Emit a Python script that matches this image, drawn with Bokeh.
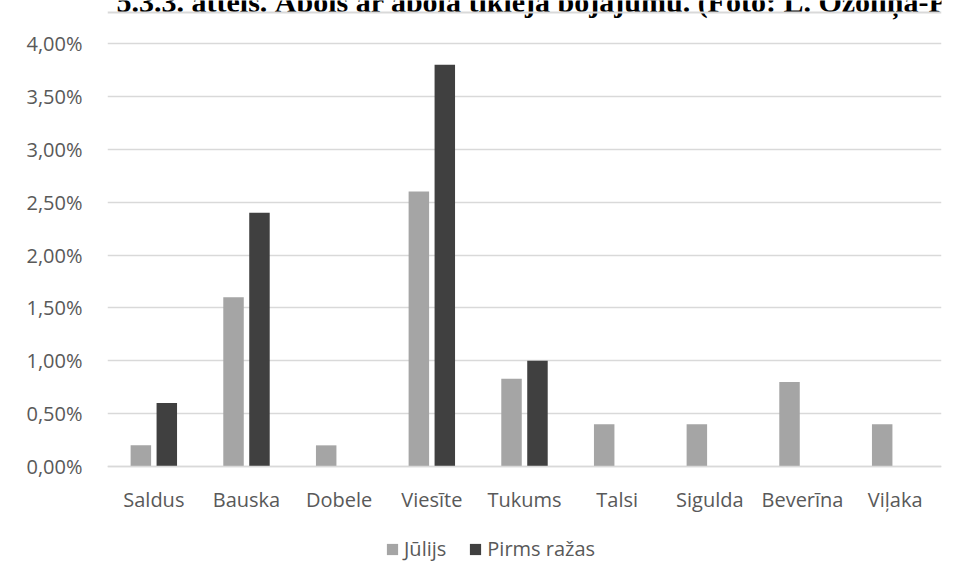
from bokeh.plotting import figure
from bokeh.models import (ColumnDataSource, Range1d, Legend, LegendItem, Span,
                          CustomJSTickFormatter, FixedTicker)
from bokeh.core.properties import value
from bokeh.embed import file_html
from bokeh.resources import INLINE

categories = ["Saldus", "Bauska", "Dobele", "Viesīte", "Tukums", "Talsi", "Sigulda", "Beverīna", "Viļaka"]
julijs = [0.2, 1.6, 0.2, 2.6, 0.83, 0.4, 0.4, 0.8, 0.4]
pirms_razas = [0.6, 2.4, 0.0, 3.8, 1.0, 0.0, 0.0, 0.0, 0.0]
y_ticks = [0, 0.5, 1.0, 1.5, 2.0, 2.5, 3.0, 3.5, 4.0]
series_names = ["Jūlijs", "Pirms ražas"]
title_text = "5.3.3. attēls. Ābols ar ābola tīkleja bojājumu. (Foto: L. Ozoliņa-Pole)"

FONT = "Open Sans"
TXT = "#595959"
BORDER = "#D9D9D9"

# layout in pixels: frame from the canvas top to 580 px; 0 % at 466 px, 4 % at 43 px
FRAME_LEFT, FRAME_RIGHT, FRAME_BOTTOM, FIG_H = 107, 941, 580, 640
ZERO_PX, TOP_PX = 466, 43
px_per_unit = (ZERO_PX - TOP_PX) / 4.0
Y_END = ZERO_PX / px_per_unit
Y_START = -(FRAME_BOTTOM - ZERO_PX) / px_per_unit
px_per_cat = (FRAME_RIGHT - FRAME_LEFT) / len(categories)

centers = [i + 0.5 for i in range(len(categories))]
src = ColumnDataSource(dict(xa=[c - 0.14 for c in centers], xb=[c + 0.14 for c in centers],
                            a=julijs, b=pirms_razas))

p = figure(width=955, height=FIG_H, x_range=Range1d(0, len(categories)), y_range=Range1d(Y_START, Y_END),
           output_backend="svg", toolbar_location=None,
           min_border_left=FRAME_LEFT, min_border_right=955 - FRAME_RIGHT,
           min_border_top=0, min_border_bottom=FIG_H - FRAME_BOTTOM)
p.outline_line_color = None
p.background_fill_color = "white"
p.border_fill_color = "white"

r1 = p.vbar(x="xa", top="a", width=0.221, source=src, fill_color="#A5A5A5", line_color=None)
r2 = p.vbar(x="xb", top="b", width=0.221, source=src, fill_color="#404040", line_color=None)

p.xgrid.grid_line_color = None
p.ygrid.grid_line_color = BORDER
p.ygrid.grid_line_width = 1.3
p.ygrid.ticker = FixedTicker(ticks=y_ticks)

ya = p.yaxis[0]
ya.ticker = FixedTicker(ticks=y_ticks)
ya.formatter = CustomJSTickFormatter(code="return tick.toFixed(2).replace('.', ',') + '%';")
ya.axis_line_color = None
ya.major_tick_line_color = None
ya.minor_tick_line_color = None
ya.major_label_standoff = 19
ya.major_label_text_font = FONT
ya.major_label_text_font_size = "20px"
ya.major_label_text_color = TXT

xa = p.xaxis[0]
xa.fixed_location = 0
xa.ticker = FixedTicker(ticks=centers)
xa.formatter = CustomJSTickFormatter(args=dict(labels=categories),
                                     code="var i = Math.round(tick - 0.5); return (i >= 0 && i < labels.length) ? labels[i] : '';")
xa.axis_line_color = BORDER
xa.axis_line_width = 1.3
xa.major_tick_line_color = None
xa.minor_tick_line_color = None
xa.major_label_standoff = 13
xa.major_label_text_font = FONT
xa.major_label_text_font_size = "20px"
xa.major_label_text_color = TXT

# caption (its top falls outside the page, as in the source)
tsrc = ColumnDataSource(dict(x=[(116 - FRAME_LEFT) / px_per_cat], y=[(ZERO_PX - 0.5) / px_per_unit],
                             t=[title_text]))
p.text(x="x", y="y", text="t", source=tsrc,
       text_font=value("Liberation Serif"), text_font_style="bold", text_font_size="30px",
       text_color="black", text_baseline="alphabetic", text_align="left")

# top edge of the chart box
p.add_layout(Span(location=(ZERO_PX - 12) / px_per_unit, dimension="width",
                  line_color=BORDER, line_width=2))

legend = Legend(items=[LegendItem(label=series_names[0], renderers=[r1]),
                       LegendItem(label=series_names[1], renderers=[r2])],
                orientation="horizontal", location=(385 - FRAME_LEFT, FRAME_BOTTOM - 562))
legend.padding = 0
legend.margin = 0
legend.border_line_color = None
legend.background_fill_alpha = 0
legend.glyph_width = 14
legend.glyph_height = 14
legend.label_height = 20
legend.label_width = 0
legend.label_standoff = 5
legend.spacing = 22
legend.label_text_font = FONT
legend.label_text_font_size = "20px"
legend.label_text_color = TXT
p.add_layout(legend)

open("out.html", "w").write(file_html(p, INLINE))
